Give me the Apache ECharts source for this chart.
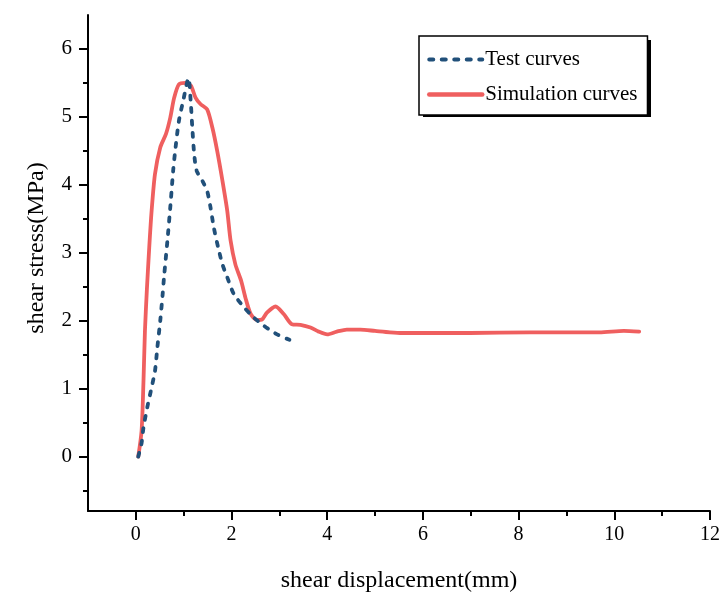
<!DOCTYPE html>
<html>
<head>
<meta charset="utf-8">
<title>Shear stress vs shear displacement</title>
<script src="https://cdn.jsdelivr.net/npm/echarts@6/dist/echarts.min.js"></script>
<style>
  html, body { margin: 0; padding: 0; background: #fff; }
  #chart { width: 720px; height: 592px; }
</style>
</head>
<body>
<div id="chart"></div>
<script>
// Laboratory direct-shear test: [displacement mm, stress MPa]
var testCurve = [
  [0.05, 0.00], [0.12, 0.20], [0.16, 0.43], [0.24, 0.73], [0.33, 1.02],
  [0.40, 1.26], [0.45, 1.61], [0.51, 2.00], [0.56, 2.39], [0.59, 2.65],
  [0.66, 3.18], [0.73, 3.76], [0.78, 4.21], [0.83, 4.55], [0.90, 4.94],
  [0.99, 5.24], [1.10, 5.57], [1.15, 5.19], [1.18, 4.84], [1.22, 4.45],
  [1.27, 4.21], [1.39, 4.06], [1.49, 3.91], [1.56, 3.67], [1.63, 3.37],
  [1.72, 3.08], [1.81, 2.83], [1.91, 2.64], [2.05, 2.39], [2.26, 2.20],
  [2.46, 2.05], [2.67, 1.93], [2.95, 1.80], [3.21, 1.72]
];

// Numerical simulation: [displacement mm, stress MPa]
var simulationCurve = [
  [0.05, 0.00], [0.12, 0.38], [0.16, 1.12], [0.19, 1.85], [0.23, 2.45],
  [0.28, 3.08], [0.33, 3.62], [0.40, 4.16], [0.51, 4.55], [0.63, 4.75],
  [0.72, 4.99], [0.80, 5.28], [0.90, 5.48], [1.04, 5.50], [1.15, 5.46],
  [1.25, 5.28], [1.35, 5.19], [1.49, 5.11], [1.60, 4.84], [1.70, 4.50],
  [1.81, 4.06], [1.91, 3.62], [1.98, 3.18], [2.08, 2.83], [2.20, 2.59],
  [2.29, 2.34], [2.40, 2.10], [2.53, 2.01], [2.64, 2.02], [2.74, 2.12],
  [2.92, 2.21], [3.09, 2.10], [3.26, 1.95], [3.44, 1.94], [3.65, 1.90],
  [3.82, 1.84], [4.00, 1.80], [4.20, 1.84], [4.41, 1.87], [4.69, 1.87],
  [5.00, 1.85], [5.31, 1.83], [5.56, 1.82], [6.00, 1.82], [6.98, 1.82],
  [8.23, 1.83], [9.69, 1.83], [10.20, 1.85], [10.52, 1.84]
];

var xMajorTicks = [0, 2, 4, 6, 8, 10, 12];
var xMinorTicks = [1, 3, 5, 7, 9, 11];
var yMajorTicks = [0, 1, 2, 3, 4, 5, 6];
var yMinorTicks = [-0.5, 0.5, 1.5, 2.5, 3.5, 4.5, 5.5];

var FONT = '"Liberation Serif", "Times New Roman", serif';
var AXIS_COLOR = '#000';
var TEST_COLOR = '#21507a';
var SIM_COLOR = '#ef5f5f';
var TEST_DASH = [4, 8.5];

var chart = echarts.init(document.getElementById('chart'), null, { renderer: 'canvas' });

var baseX = {
  type: 'value', min: -1, max: 12, position: 'bottom',
  splitLine: { show: false }
};
var baseY = {
  type: 'value', min: -0.8, max: 6.5, position: 'left',
  splitLine: { show: false }
};

chart.setOption({
  animation: false,
  backgroundColor: '#fff',
  grid: { left: 88, right: 10, top: 15, bottom: 81, containLabel: false, outerBoundsMode: 'none' },
  xAxis: [
    Object.assign({}, baseX, {
      name: 'shear displacement(mm)',
      nameLocation: 'middle',
      nameGap: 58,
      nameTextStyle: { fontFamily: FONT, fontSize: 24, color: '#000' },
      axisLine: { show: true, onZero: false, lineStyle: { color: AXIS_COLOR, width: 2 } },
      axisTick: { show: true, inside: false, length: 9, customValues: xMajorTicks,
                  lineStyle: { color: AXIS_COLOR, width: 2 } },
      axisLabel: { show: true, customValues: xMajorTicks, margin: 14, hideOverlap: false,
                   fontFamily: FONT, fontSize: 20, color: '#000' }
    }),
    Object.assign({}, baseX, {
      axisLine: { show: false, onZero: false },
      axisTick: { show: true, inside: false, length: 5, customValues: xMinorTicks,
                  lineStyle: { color: AXIS_COLOR, width: 2 } },
      axisLabel: { show: false }
    })
  ],
  yAxis: [
    Object.assign({}, baseY, {
      axisLine: { show: true, onZero: false, lineStyle: { color: AXIS_COLOR, width: 2 } },
      axisTick: { show: true, inside: false, length: 9, customValues: yMajorTicks,
                  lineStyle: { color: AXIS_COLOR, width: 2 } },
      axisLabel: { show: true, customValues: yMajorTicks, margin: 16,
                   fontFamily: FONT, fontSize: 21, color: '#000' }
    }),
    Object.assign({}, baseY, {
      axisLine: { show: false, onZero: false },
      axisTick: { show: true, inside: false, length: 5, customValues: yMinorTicks,
                  lineStyle: { color: AXIS_COLOR, width: 2 } },
      axisLabel: { show: false }
    })
  ],
  graphic: [
    {
      // y-axis title, reading bottom to top
      type: 'text',
      x: 37, y: 248,
      rotation: Math.PI / 2,
      style: {
        text: 'shear stress(MPa)',
        fontFamily: FONT, fontSize: 24, fill: '#000',
        align: 'center', verticalAlign: 'middle'
      }
    },
    {
      // drop shadow behind the legend box
      type: 'rect',
      z: 0,
      shape: { x: 423, y: 40, width: 228, height: 77 },
      style: { fill: '#000' }
    }
  ],
  legend: {
    orient: 'vertical',
    left: 419, top: 36,
    padding: [13, 10, 10, 8],
    itemWidth: 53, itemHeight: 14, itemGap: 14,
    backgroundColor: '#fff',
    borderColor: '#000', borderWidth: 1.5, borderRadius: 0,
    itemStyle: { opacity: 0 },
    textStyle: { fontFamily: FONT, fontSize: 21, color: '#000', padding: [0, 0, 0, -2] },
    data: [
      { name: 'Test curves',
        lineStyle: { color: TEST_COLOR, width: 4, type: TEST_DASH, cap: 'round' } },
      { name: 'Simulation curves',
        lineStyle: { color: SIM_COLOR, width: 4.5, cap: 'round' } }
    ]
  },
  series: [
    {
      name: 'Test curves', type: 'line',
      xAxisIndex: 0, yAxisIndex: 0,
      data: testCurve, symbol: 'none', smooth: 0.25, z: 3,
      itemStyle: { color: TEST_COLOR },
      lineStyle: { color: TEST_COLOR, width: 3.8, type: TEST_DASH, cap: 'round' }
    },
    {
      name: 'Simulation curves', type: 'line',
      xAxisIndex: 0, yAxisIndex: 0,
      data: simulationCurve, symbol: 'none', smooth: 0.25, z: 2,
      itemStyle: { color: SIM_COLOR },
      lineStyle: { color: SIM_COLOR, width: 3.8, cap: 'round', join: 'round' }
    }
  ]
});
</script>
</body>
</html>
